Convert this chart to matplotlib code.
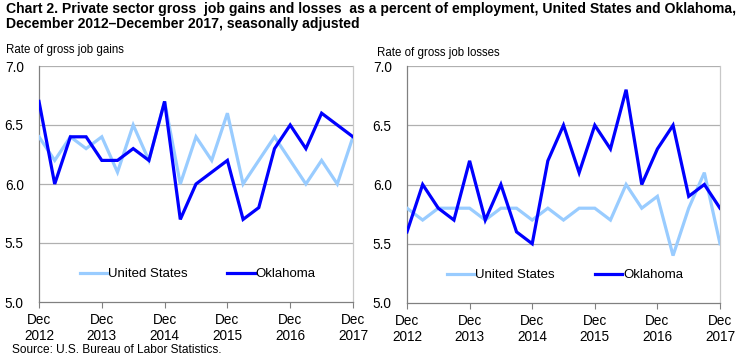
import matplotlib
matplotlib.use("Agg")
import matplotlib.pyplot as plt
from matplotlib import font_manager

names = {f.name for f in font_manager.fontManager.ttflist}
narrow = "Liberation Sans Narrow" if "Liberation Sans Narrow" in names else "Liberation Sans"
plt.rcParams['font.family'] = ['Liberation Sans', 'DejaVu Sans']

# Data (quarterly, Dec 2012 .. Dec 2017)
tick_labels = ["Dec\n2012", "Dec\n2013", "Dec\n2014", "Dec\n2015", "Dec\n2016", "Dec\n2017"]
gains_us = [6.4, 6.2, 6.4, 6.3, 6.4, 6.1, 6.5, 6.2, 6.7, 6.0, 6.4, 6.2, 6.6, 6.0, 6.2, 6.4, 6.2, 6.0, 6.2, 6.0, 6.4]
gains_ok = [6.7, 6.0, 6.4, 6.4, 6.2, 6.2, 6.3, 6.2, 6.7, 5.7, 6.0, 6.1, 6.2, 5.7, 5.8, 6.3, 6.5, 6.3, 6.6, 6.5, 6.4]
losses_us = [5.8, 5.7, 5.8, 5.8, 5.8, 5.7, 5.8, 5.8, 5.7, 5.8, 5.7, 5.8, 5.8, 5.7, 6.0, 5.8, 5.9, 5.4, 5.8, 6.1, 5.5]
losses_ok = [5.6, 6.0, 5.8, 5.7, 6.2, 5.7, 6.0, 5.6, 5.5, 6.2, 6.5, 6.1, 6.5, 6.3, 6.8, 6.0, 6.3, 6.5, 5.9, 6.0, 5.8]

US_COLOR = "#99CCFF"
OK_COLOR = "#0000FF"

fig = plt.figure(figsize=(7.44, 3.63), dpi=100)
W, H = 744, 363

def make_ax(x0, x1, y0, y1):
    return fig.add_axes([x0 / W, 1 - y1 / H, (x1 - x0) / W, (y1 - y0) / H])

axes = [make_ax(39, 353, 66, 302), make_ax(407, 720, 66, 303)]
data = [(gains_us, gains_ok), (losses_us, losses_ok)]

for ax, (us, ok) in zip(axes, data):
    x = list(range(len(us)))
    ax.set_xlim(0, len(us) - 1)
    ax.set_ylim(5.0, 7.0)
    for yv in [5.5, 6.0, 6.5, 7.0]:
        ax.axhline(yv, color="#B0B0B0", lw=0.9, zorder=1)
    ax.plot(x, us, color=US_COLOR, lw=2.3, label="United States", zorder=3, solid_joinstyle='miter')
    ax.plot(x, ok, color=OK_COLOR, lw=2.3, label="Oklahoma", zorder=4, solid_joinstyle='miter')
    ax.set_yticks([5.0, 5.5, 6.0, 6.5, 7.0])
    ax.set_yticklabels(["5.0", "5.5", "6.0", "6.5", "7.0"])
    ax.set_xticks(list(range(0, len(us), 4)))
    ax.set_xticklabels(tick_labels)
    ax.tick_params(axis='y', length=0, pad=11, labelsize=9.8, colors='black')
    ax.tick_params(axis='x', length=4, width=0.8, color="#808080", pad=4, labelsize=9.8)
    ax.spines['top'].set_visible(False)
    ax.spines['right'].set_color("#C8C8C8")
    ax.spines['left'].set_color("#808080")
    ax.spines['bottom'].set_color("#808080")
    for s in ax.spines.values():
        s.set_linewidth(0.9)
    ax.legend(loc='center', bbox_to_anchor=(0.505, 0.118), ncol=2, frameon=False,
              fontsize=9.5, handlelength=2.1, handletextpad=0.05, columnspacing=3.0)

fig.text(6 / W, 1 - 2 / H, "Chart 2. Private sector gross  job gains and losses  as a percent of employment, United States and Oklahoma,\nDecember 2012\u2013December 2017, seasonally adjusted",
         family=narrow, fontweight='bold', fontsize=10.1, va='top', ha='left', linespacing=1.05)
fig.text(6 / W, 1 - 50 / H, "Rate of gross job gains", family=narrow, fontsize=8.3, va='center', ha='left')
fig.text(377 / W, 1 - 53 / H, "Rate of gross job losses", family=narrow, fontsize=8.3, va='center', ha='left')
fig.text(12 / W, 1 - 350 / H, "Source: U.S. Bureau of Labor Statistics.", fontsize=8.6, va='center', ha='left')

fig.savefig("out.png", dpi=100)
